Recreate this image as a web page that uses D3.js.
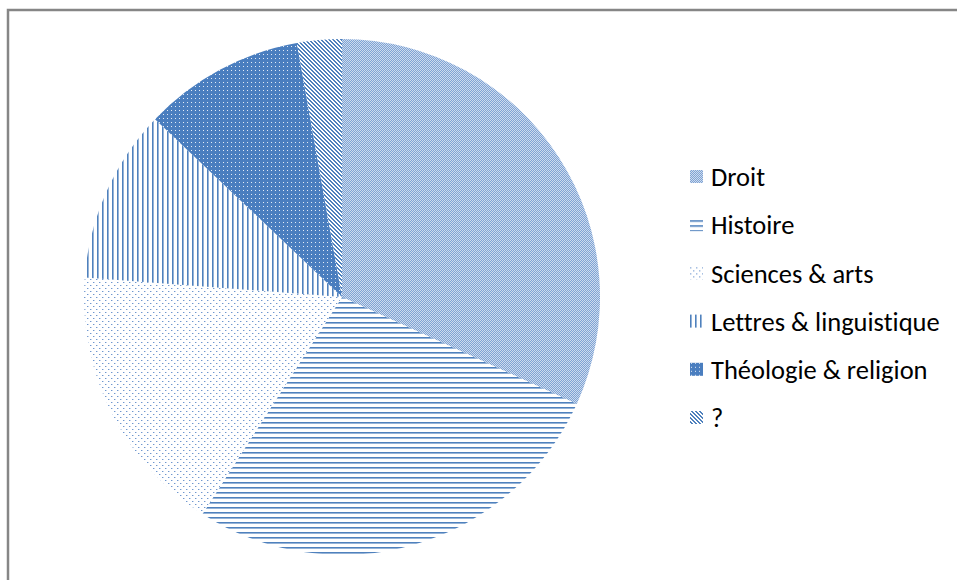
<!DOCTYPE html>
<html><head><meta charset="utf-8">
<script src="https://cdn.jsdelivr.net/npm/d3@7"></script>
<style>html,body{margin:0;padding:0;background:#fff;overflow:hidden}</style>
</head><body>
<svg id="chart" width="957" height="580"></svg>
<script>
const categories = ["Droit", "Histoire", "Sciences & arts", "Lettres & linguistique", "Théologie & religion", "?"];
const values = [31.8, 27.3, 17.1, 10.9, 10.1, 2.8];
const patternIds = ["p-droit", "p-histoire", "p-sciences", "p-lettres", "p-theologie", "p-unknown"];

const svg = d3.select("#chart");
const blue = "#4f81bd", light = "#95b3d7";
const defs = svg.append("defs");

function pattern(id, w, h, bg, rects) {
  const p = defs.append("pattern").attr("id", id).attr("patternUnits", "userSpaceOnUse")
    .attr("width", w).attr("height", h);
  p.append("rect").attr("width", w).attr("height", h).attr("fill", bg);
  rects.forEach(r => p.append("rect").attr("x", r[0]).attr("y", r[1]).attr("width", r[2]).attr("height", r[3]).attr("fill", r[4]));
}
// Droit: fine checker
pattern("p-droit", 2, 2, "#cddbee", [[0,0,1,1,"#7fa3d4"],[1,1,1,1,"#7fa3d4"]]);
// Histoire: horizontal lines
pattern("p-histoire", 5, 5, "#ffffff", [[0,0,5,1,blue],[0,1,5,1,light]]);
// Sciences: sparse dots
pattern("p-sciences", 6, 6, "#ffffff", [[0,0,1,1,"#6f97cf"],[3,3,1,1,"#6f97cf"],[1,0,1,1,"#c6d6ec"],[4,3,1,1,"#c6d6ec"]]);
// Lettres: vertical lines
pattern("p-lettres", 5, 5, "#ffffff", [[0,0,1,5,blue],[1,0,1,5,light]]);
// Théologie: solid with white dots
pattern("p-theologie", 4, 4, "#4a7ebf", [[1,1,1,1,"#e4ecf6"]]);
// ?: downward diagonal
pattern("p-unknown", 4, 4, "#ffffff", [
  [0,0,2,1,blue],[1,1,2,1,blue],[2,2,2,1,blue],[3,3,1,1,blue],[0,3,1,1,blue]]);

// frame
svg.append("rect").attr("x", 8).attr("y", 10).attr("width", 1200).attr("height", 1200)
  .attr("fill", "none").attr("stroke", "#868686").attr("stroke-width", 2.5);

const cx = 342, cy = 297, r = 258;
const pie = d3.pie().sort(null).value(d => d.v);
const arc = d3.arc().innerRadius(0).outerRadius(r);
const data = categories.map((c, i) => ({c, v: values[i], p: patternIds[i]}));

svg.append("g").attr("transform", `translate(${cx},${cy})`)
  .selectAll("path").data(pie(data)).join("path")
  .attr("d", arc)
  .attr("fill", d => `url(#${d.data.p})`);

// legend
const ly = d3.scalePoint().domain(categories).range([177, 418]);
const lg = svg.append("g");
const items = lg.selectAll("g").data(data).join("g")
  .attr("transform", d => `translate(690,${ly(d.c)})`);
items.append("rect").attr("x", 0).attr("y", -7).attr("width", 13).attr("height", 13)
  .attr("fill", d => `url(#${d.p})`);
items.append("text").attr("x", 21).attr("y", 0).attr("dy", "0.35em")
  .attr("font-family", "Carlito, Calibri, 'Open Sans', 'Liberation Sans', sans-serif")
  .attr("font-size", 26.5).attr("fill", "#000")
  .style("font-variant-ligatures", "none")
  .text(d => d.c);
</script>
</body></html>
